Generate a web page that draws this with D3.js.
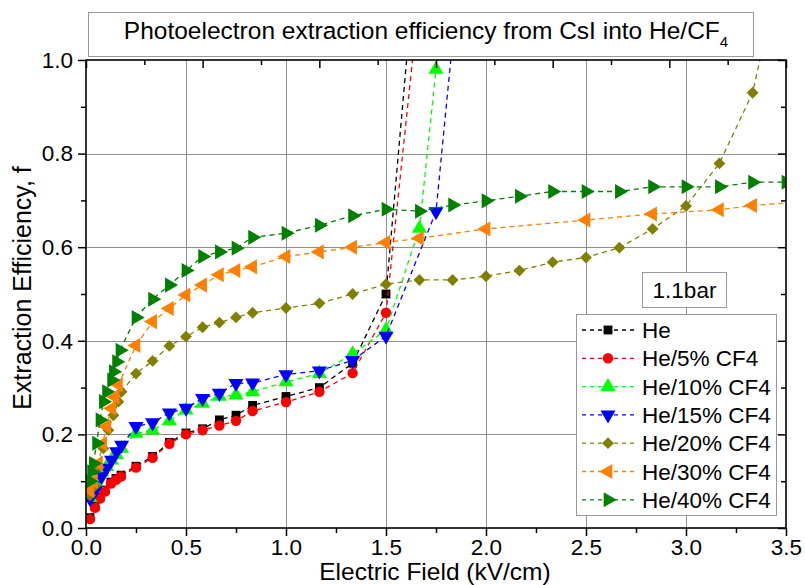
<!DOCTYPE html>
<html>
<head>
<meta charset="utf-8">
<script src="https://cdn.jsdelivr.net/npm/d3@7"></script>
<style>
  html, body { margin: 0; padding: 0; background: #fff; }
  svg { display: block; }
  text { font-family: "Liberation Sans", Arial, sans-serif; fill: #000; }
</style>
</head>
<body>
<svg id="chart" width="805" height="585"></svg>
<script>
// ---------------- data ----------------
const seriesNames = ["He", "He/5% CF4", "He/10% CF4", "He/15% CF4", "He/20% CF4", "He/30% CF4", "He/40% CF4"];

const heX   = [0.02,0.045,0.07,0.095,0.125,0.15,0.175,0.25,0.333,0.417,0.5,0.583,0.667,0.75,0.833,1.0,1.167,1.333,1.5,1.667];
const heY   = [0.022,0.046,0.066,0.081,0.098,0.106,0.113,0.132,0.153,0.183,0.203,0.212,0.231,0.241,0.262,0.281,0.30,0.352,0.50,1.31];

const he5X  = [0.02,0.045,0.07,0.095,0.125,0.15,0.175,0.25,0.333,0.417,0.5,0.583,0.667,0.75,0.833,1.0,1.167,1.333,1.5,1.667];
const he5Y  = [0.019,0.043,0.063,0.078,0.095,0.103,0.11,0.129,0.15,0.18,0.20,0.209,0.219,0.229,0.25,0.269,0.291,0.331,0.46,1.14];

const he10X = [0.02,0.05,0.078,0.103,0.128,0.153,0.178,0.25,0.333,0.417,0.5,0.583,0.667,0.75,0.833,1.0,1.167,1.333,1.5,1.667,1.75,1.833];
const he10Y = [0.065,0.095,0.12,0.131,0.145,0.156,0.17,0.202,0.209,0.229,0.252,0.266,0.281,0.284,0.291,0.312,0.33,0.372,0.423,0.64,0.98,1.32];

const he15X = [0.02,0.048,0.078,0.103,0.128,0.153,0.178,0.25,0.333,0.417,0.5,0.583,0.667,0.75,0.833,1.0,1.167,1.333,1.5,1.75,1.833];
const he15Y = [0.063,0.081,0.11,0.128,0.145,0.163,0.177,0.217,0.225,0.246,0.256,0.277,0.288,0.309,0.31,0.328,0.336,0.358,0.41,0.676,1.04];

const he20X = [0.02,0.045,0.065,0.087,0.112,0.137,0.162,0.178,0.25,0.333,0.417,0.5,0.583,0.667,0.75,0.833,1.0,1.167,1.333,1.5,1.667,1.833,2.0,2.167,2.333,2.5,2.667,2.833,3.0,3.167,3.333,3.5];
const he20Y = [0.07,0.09,0.13,0.17,0.209,0.241,0.27,0.291,0.33,0.357,0.389,0.409,0.429,0.439,0.45,0.46,0.47,0.48,0.50,0.521,0.53,0.53,0.538,0.55,0.568,0.578,0.599,0.639,0.688,0.779,0.93,1.25];

const he30X = [0.02,0.037,0.062,0.083,0.103,0.128,0.145,0.162,0.25,0.333,0.417,0.5,0.583,0.667,0.75,0.833,1.0,1.167,1.333,1.5,1.667,2.0,2.5,2.833,3.167,3.333,3.667];
const he30Y = [0.08,0.10,0.138,0.18,0.217,0.256,0.28,0.306,0.39,0.441,0.469,0.498,0.519,0.541,0.55,0.558,0.58,0.59,0.60,0.61,0.619,0.639,0.658,0.671,0.68,0.689,0.70];

const he40X = [0.02,0.028,0.037,0.053,0.07,0.087,0.103,0.128,0.137,0.153,0.17,0.25,0.333,0.417,0.5,0.583,0.667,0.75,0.833,1.0,1.167,1.333,1.5,1.667,1.833,2.0,2.167,2.333,2.5,2.667,2.833,3.0,3.167,3.333,3.5];
const he40Y = [0.10,0.12,0.138,0.181,0.231,0.27,0.291,0.316,0.334,0.355,0.38,0.45,0.489,0.519,0.55,0.58,0.59,0.598,0.621,0.63,0.647,0.667,0.681,0.677,0.69,0.699,0.709,0.719,0.719,0.719,0.729,0.729,0.729,0.739,0.739];

const xMajorTicks = [0, 0.5, 1.0, 1.5, 2.0, 2.5, 3.0, 3.5];
const xMinorTicks = [0.25, 0.75, 1.25, 1.75, 2.25, 2.75, 3.25];
const yMajorTicks = [0, 0.2, 0.4, 0.6, 0.8, 1.0];
const yMinorTicks = [0.1, 0.3, 0.5, 0.7, 0.9];
const topMajorTicks = [0, 1, 2, 3, 4, 5, 6];
const topMinorTicks = [0.5, 1.5, 2.5, 3.5, 4.5, 5.5];

const titleMain = "Photoelectron extraction efficiency from CsI into He/CF";
const titleSub = "4";
const xTitle = "Electric Field (kV/cm)";
const yTitle = "Extraction Efficiency, f";
const pressureLabel = "1.1bar";

// ---------------- setup ----------------
const colors  = ["#000000", "#ff0000", "#00ff00", "#0000ff", "#808000", "#ff8000", "#008000"];
const symbols = ["square", "circle", "triUp", "triDown", "diamond", "triLeft", "triRight"];
const xsAll = [heX, he5X, he10X, he15X, he20X, he30X, he40X];
const ysAll = [heY, he5Y, he10Y, he15Y, he20Y, he30Y, he40Y];

const series = seriesNames.map((name, i) => ({
  name, color: colors[i], symbol: symbols[i],
  points: xsAll[i].map((x, j) => ({ x, y: ysAll[i][j] }))
}));

const W = 805, H = 585;
const margin = { left: 86, right: 19, top: 60, bottom: 57 };
const x = d3.scaleLinear().domain([0, 3.5]).range([margin.left, W - margin.right]);
const y = d3.scaleLinear().domain([0, 1]).range([H - margin.bottom, margin.top]);
const xTop = d3.scaleLinear().domain([0, 6]).range([margin.left, W - margin.right]);

const svg = d3.select("#chart");

svg.append("defs").append("clipPath").attr("id", "plotclip")
  .append("rect")
  .attr("x", margin.left).attr("y", margin.top)
  .attr("width", x(3.5) - x(0)).attr("height", y(0) - y(1));

// grid
const grid = svg.append("g").attr("stroke", "#8f8f8f").attr("stroke-width", 1);
grid.selectAll("line.vg").data(xMajorTicks.filter(d => d > 0 && d < 3.5)).join("line")
  .attr("x1", d => Math.round(x(d)) + 0.5).attr("x2", d => Math.round(x(d)) + 0.5)
  .attr("y1", y(1)).attr("y2", y(0));
grid.selectAll("line.hg").data(yMajorTicks.filter(d => d > 0 && d < 1)).join("line")
  .attr("y1", d => Math.round(y(d)) + 0.5).attr("y2", d => Math.round(y(d)) + 0.5)
  .attr("x1", x(0)).attr("x2", x(3.5));

// symbol generator
function symbolPath(kind) {
  switch (kind) {
    case "square":   return { d: d3.symbol(d3.symbolSquare, 78)(), rot: 0 };
    case "circle":   return { d: d3.symbol(d3.symbolCircle, 85)(), rot: 0 };
    case "triUp":    return { d: d3.symbol(d3.symbolTriangle, 98)(), rot: 0 };
    case "triDown":  return { d: d3.symbol(d3.symbolTriangle, 98)(), rot: 180 };
    case "triLeft":  return { d: d3.symbol(d3.symbolTriangle, 98)(), rot: -90 };
    case "triRight": return { d: d3.symbol(d3.symbolTriangle, 98)(), rot: 90 };
    case "diamond":  return { d: d3.symbol(d3.symbolSquare, 70)(), rot: 45 };
  }
}

const line = d3.line().x(d => x(d.x)).y(d => y(d.y));
const plot = svg.append("g").attr("clip-path", "url(#plotclip)");

series.forEach(s => {
  const g = plot.append("g");
  g.append("path").datum(s.points)
    .attr("d", line).attr("fill", "none")
    .attr("stroke", s.color).attr("stroke-width", 1.3)
    .attr("stroke-dasharray", "5,4");
  const sp = symbolPath(s.symbol);
  g.selectAll("path.m").data(s.points).join("path")
    .attr("class", "m")
    .attr("d", sp.d)
    .attr("fill", s.color)
    .attr("transform", d => `translate(${x(d.x)},${y(d.y)}) rotate(${sp.rot})`);
});

// axes
const fontTick = 22.5;
function styleAxis(g) {
  g.select(".domain").remove();
  g.selectAll(".tick line").attr("stroke", "#000").attr("stroke-width", 1.5);
  g.selectAll("text").style("font-family", '"Liberation Sans", Arial, sans-serif')
    .style("font-size", fontTick + "px").attr("fill", "#000");
}

// bottom
svg.append("g").attr("transform", `translate(0,${y(0)})`)
  .call(d3.axisBottom(x).tickValues(xMajorTicks).tickSize(8).tickPadding(3).tickFormat(d3.format(".1f")))
  .call(styleAxis);
svg.append("g").attr("transform", `translate(0,${y(0)})`)
  .call(d3.axisBottom(x).tickValues(xMinorTicks).tickSize(5).tickFormat(""))
  .call(styleAxis);
// left
svg.append("g").attr("transform", `translate(${x(0)},0)`)
  .call(d3.axisLeft(y).tickValues(yMajorTicks).tickSize(8).tickPadding(5).tickFormat(d3.format(".1f")))
  .call(styleAxis);
svg.append("g").attr("transform", `translate(${x(0)},0)`)
  .call(d3.axisLeft(y).tickValues(yMinorTicks).tickSize(5).tickFormat(""))
  .call(styleAxis);
// right (inward)
svg.append("g").attr("transform", `translate(${x(3.5)},0)`)
  .call(d3.axisRight(y).tickValues(yMajorTicks).tickSize(-8).tickFormat(""))
  .call(styleAxis);
svg.append("g").attr("transform", `translate(${x(3.5)},0)`)
  .call(d3.axisRight(y).tickValues(yMinorTicks).tickSize(-5).tickFormat(""))
  .call(styleAxis);
// top (inward)
svg.append("g").attr("transform", `translate(0,${y(1)})`)
  .call(d3.axisTop(xTop).tickValues(topMajorTicks).tickSize(-8).tickFormat(""))
  .call(styleAxis);
svg.append("g").attr("transform", `translate(0,${y(1)})`)
  .call(d3.axisTop(xTop).tickValues(topMinorTicks).tickSize(-5).tickFormat(""))
  .call(styleAxis);

// frame
svg.append("rect")
  .attr("x", x(0)).attr("y", y(1))
  .attr("width", x(3.5) - x(0)).attr("height", y(0) - y(1))
  .attr("fill", "none").attr("stroke", "#000").attr("stroke-width", 1.6);

// axis titles
svg.append("text").attr("x", 435).attr("y", 580)
  .attr("text-anchor", "middle").style("font-size", "24.5px").text(xTitle);
svg.append("text").attr("transform", `translate(31,288) rotate(-90)`)
  .attr("text-anchor", "middle").style("font-size", "25px").text(yTitle);

// title box
svg.append("rect").attr("x", 88.5).attr("y", 12.5).attr("width", 665).attr("height", 44)
  .attr("fill", "#fff").attr("stroke", "#999").attr("stroke-width", 1);
const tt = svg.append("text").attr("x", 426).attr("y", 39).attr("text-anchor", "middle")
  .style("font-size", "24.5px");
tt.append("tspan").text(titleMain);
tt.append("tspan").attr("dy", 8).style("font-size", "15px").text(titleSub);

// pressure box
svg.append("rect").attr("x", 642.5).attr("y", 272.5).attr("width", 84).attr("height", 35)
  .attr("fill", "#fff").attr("stroke", "#999").attr("stroke-width", 1);
svg.append("text").attr("x", 684.5).attr("y", 298).attr("text-anchor", "middle")
  .style("font-size", "22.5px").text(pressureLabel);

// legend
const lg = svg.append("g");
lg.append("rect").attr("x", 576.5).attr("y", 314.5).attr("width", 200).attr("height", 201)
  .attr("fill", "#fff").attr("stroke", "#999").attr("stroke-width", 1);
series.forEach((s, i) => {
  const cy = 330 + i * 28.3;
  lg.append("line").attr("x1", 582).attr("x2", 634).attr("y1", cy).attr("y2", cy)
    .attr("stroke", s.color).attr("stroke-width", 1.3).attr("stroke-dasharray", "4,4");
  const sp = symbolPath(s.symbol);
  lg.append("path").attr("d", sp.d).attr("fill", s.color)
    .attr("transform", `translate(608,${cy}) rotate(${sp.rot})`);
  lg.append("text").attr("x", 642).attr("y", cy).attr("dy", "0.36em")
    .style("font-size", "22.5px").text(s.name);
});
</script>
</body>
</html>
